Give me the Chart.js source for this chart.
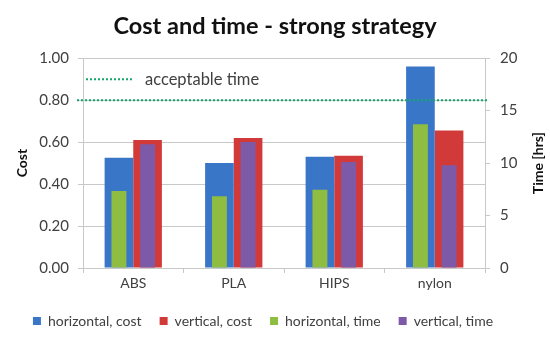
<!DOCTYPE html>
<html>
<head>
<meta charset="utf-8">
<script src="https://cdn.jsdelivr.net/npm/chart.js@4/dist/chart.umd.min.js"></script>
<style>
  html, body { margin: 0; padding: 0; background: #fff; }
  #wrap { width: 550px; height: 342px; }
</style>
</head>
<body>
<div id="wrap"><canvas id="chart"></canvas></div>
<script>
// ---- data ----
const materials      = ['ABS', 'PLA', 'HIPS', 'nylon'];
const horizontalCost = [0.525, 0.50, 0.53, 0.96];
const verticalCost   = [0.61, 0.62, 0.535, 0.655];
const horizontalTime = [7.35, 6.85, 7.45, 13.7];
const verticalTime   = [11.8, 12.0, 10.1, 9.8];
const acceptableTime = 16;
const acceptableLabel = 'acceptable time';

const FONT = 'Lato, "Open Sans", sans-serif';
const TEXT = '#404040';
const GRID = '#c8c8c8';
const LINE_GREEN = '#12a66a';

// dotted "acceptable time" line + its little inline legend, plus right axis title
const acceptablePlugin = {
    id: 'acceptable',
    afterLayout(chart) {
        // legend sits a bit left of centre in the original
        chart.legend.left -= 12;
        chart.legend.right -= 12;
    },
    afterDatasetsDraw(chart) {
        const { ctx, chartArea } = chart;
        const y = chart.scales.yTime.getPixelForValue(acceptableTime);
        ctx.save();
        ctx.strokeStyle = LINE_GREEN;
        ctx.lineWidth = 2;
        ctx.setLineDash([2, 2]);
        ctx.beginPath();
        ctx.moveTo(chartArea.left - 6, y);
        ctx.lineTo(chartArea.right + 3, y);
        ctx.stroke();

        const ly = chartArea.top + 21;
        ctx.beginPath();
        ctx.moveTo(chartArea.left + 3, ly);
        ctx.lineTo(chartArea.left + 49, ly);
        ctx.stroke();
        ctx.setLineDash([]);
        ctx.fillStyle = TEXT;
        ctx.font = '16.5px ' + FONT;
        ctx.textBaseline = 'middle';
        ctx.fillText(acceptableLabel, chartArea.left + 62, ly);
        ctx.restore();
    },
    afterDraw(chart) {
        const { ctx, chartArea } = chart;
        ctx.save();
        ctx.translate(538, (chartArea.top + chartArea.bottom) / 2);
        ctx.rotate(-Math.PI / 2);
        ctx.fillStyle = '#111';
        ctx.font = 'bold 14px ' + FONT;
        ctx.textAlign = 'center';
        ctx.textBaseline = 'middle';
        ctx.fillText('Time [hrs]', 0, 0);
        ctx.restore();
    }
};

const costBar = { categoryPercentage: 0.57, barPercentage: 1.0, order: 1, yAxisID: 'yCost' };
const timeBar = { categoryPercentage: 0.57, barPercentage: 0.52, order: 0, yAxisID: 'yTime' };

new Chart(document.getElementById('chart'), {
    type: 'bar',
    data: {
        labels: materials,
        datasets: [
            { ...costBar, label: 'horizontal, cost', data: horizontalCost, stack: 'h', backgroundColor: '#3a76c8' },
            { ...costBar, label: 'vertical, cost',   data: verticalCost,   stack: 'v', backgroundColor: '#d23a3a' },
            { ...timeBar, label: 'horizontal, time', data: horizontalTime, stack: 'h', backgroundColor: '#8fbd42' },
            { ...timeBar, label: 'vertical, time',   data: verticalTime,   stack: 'v', backgroundColor: '#7d5aa8' }
        ]
    },
    options: {
        responsive: true,
        maintainAspectRatio: false,
        animation: false,
        layout: { padding: { left: 0, right: 0, top: 0, bottom: 4 } },
        plugins: {
            title: {
                display: true,
                text: 'Cost and time - strong strategy',
                color: '#111',
                font: { family: FONT, size: 23.5, weight: 'bold' },
                padding: { top: 12, bottom: 18 }
            },
            legend: {
                position: 'bottom',
                labels: {
                    color: TEXT,
                    font: { family: FONT, size: 14 },
                    boxWidth: 8,
                    boxHeight: 8,
                    padding: 18,
                    sort: (a, b) => a.datasetIndex - b.datasetIndex
                }
            },
            tooltip: { enabled: false }
        },
        scales: {
            x: {
                stacked: true,
                grid: { display: true, drawOnChartArea: false, color: GRID, tickLength: 5 },
                border: { color: GRID },
                ticks: { color: TEXT, font: { family: FONT, size: 14 }, padding: 2 },
                afterFit: s => { s.height = 28; }
            },
            yCost: {
                position: 'left',
                stacked: false,
                min: 0, max: 1,
                ticks: { stepSize: 0.2, color: TEXT, font: { family: FONT, size: 15 }, padding: 9,
                         callback: v => v.toFixed(2) },
                grid: { color: GRID, tickLength: 5 },
                border: { color: GRID },
                title: { display: true, text: 'Cost', color: '#111',
                         font: { family: FONT, size: 14, weight: 'bold' }, padding: { top: 14, bottom: 0 } },
                afterFit: s => { s.width = 83; }
            },
            yTime: {
                position: 'right',
                stacked: false,
                min: 0, max: 20,
                ticks: { stepSize: 5, color: TEXT, font: { family: FONT, size: 15 }, padding: 10 },
                grid: { drawOnChartArea: false, color: GRID, tickLength: 5 },
                border: { color: GRID },
                afterFit: s => { s.width = 65; }
            }
        }
    },
    plugins: [acceptablePlugin]
});
</script>
</body>
</html>
